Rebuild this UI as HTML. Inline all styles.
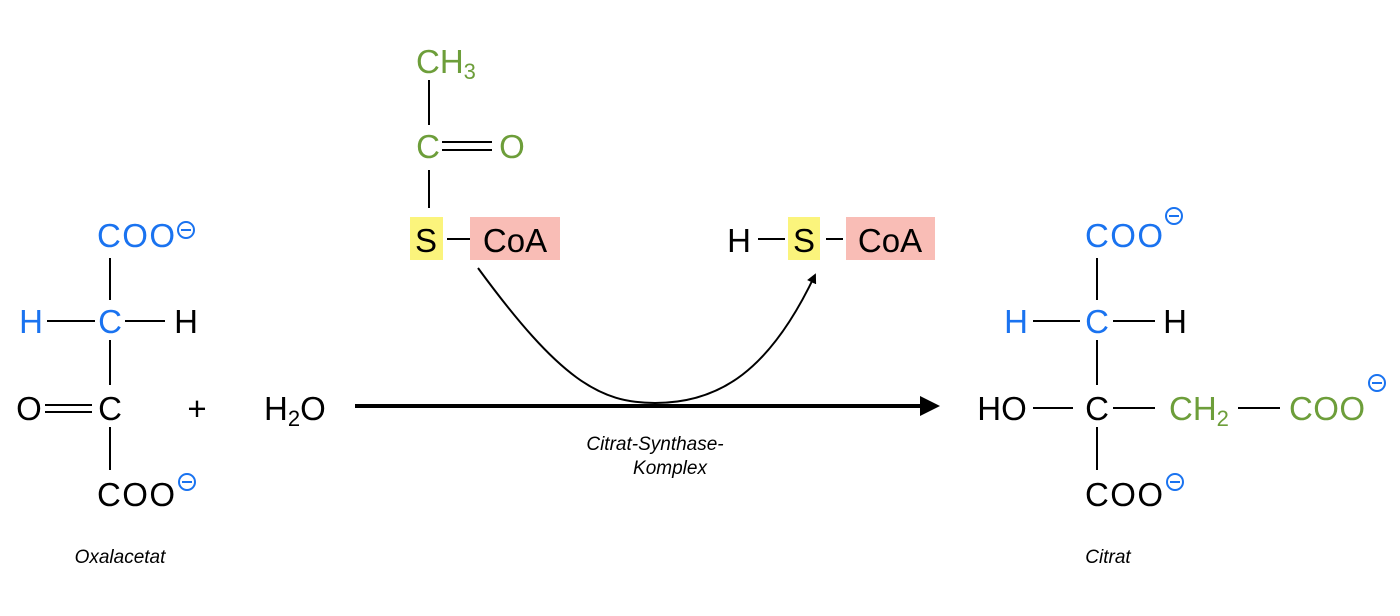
<!DOCTYPE html>
<html><head><meta charset="utf-8"><style>
html,body{margin:0;padding:0;background:#fff}
svg{display:block}
text{font-family:"Liberation Sans",sans-serif;font-size:33px}
.b{fill:#1a73f0}.g{fill:#6d9e3a}.k{fill:#000}
.i{font-style:italic;font-size:19px}
line,path{stroke:#000;stroke-width:2;fill:none}
</style></head><body>
<svg width="1400" height="616" viewBox="0 0 1400 616">
<defs><marker id="ah" markerWidth="10" markerHeight="10" refX="8" refY="5" orient="auto" markerUnits="userSpaceOnUse"><path d="M0,0 L10,5 L0,10 z" style="fill:#000;stroke:none"/></marker></defs>
<!-- Oxalacetat -->
<text x="136" y="247" text-anchor="middle" class="b" textLength="78">COO</text>
<circle cx="186" cy="230" r="8" style="fill:none;stroke:#1a73f0;stroke-width:2"/><line x1="181" y1="230" x2="191" y2="230" style="stroke:#1a73f0"/>
<line x1="110" y1="258" x2="110" y2="300"/>
<text x="31" y="333" text-anchor="middle" class="b">H</text>
<line x1="47" y1="321" x2="95" y2="321"/>
<text x="110" y="333" text-anchor="middle" class="b">C</text>
<line x1="125" y1="321" x2="165" y2="321"/>
<text x="186" y="333" text-anchor="middle">H</text>
<line x1="110" y1="340" x2="110" y2="385"/>
<text x="29" y="420" text-anchor="middle">O</text>
<line x1="45" y1="405" x2="92" y2="405"/><line x1="45" y1="412" x2="92" y2="412"/>
<text x="110" y="420" text-anchor="middle">C</text>
<text x="197" y="420" text-anchor="middle">+</text>
<line x1="110" y1="427" x2="110" y2="470"/>
<text x="136" y="506" text-anchor="middle" textLength="78">COO</text>
<circle cx="187" cy="482" r="8" style="fill:none;stroke:#1a73f0;stroke-width:2"/><line x1="182" y1="482" x2="192" y2="482" style="stroke:#1a73f0"/>
<text x="120" y="563" text-anchor="middle" class="i">Oxalacetat</text>
<!-- H2O -->
<text x="264" y="420">H<tspan font-size="22" dy="6">2</tspan><tspan dy="-6">O</tspan></text>
<line x1="355" y1="406" x2="922" y2="406" style="stroke-width:4"/>
<path d="M920,396 L940,406 L920,416 z" style="fill:#000;stroke:none"/>
<path d="M478,268 C560,380 600,403 655,403 C720,403 770,370 815,275" marker-end="url(#ah)"/>
<text x="655" y="450" text-anchor="middle" class="i">Citrat-Synthase-</text>
<text x="670" y="474" text-anchor="middle" class="i">Komplex</text>
<!-- Acetyl-CoA -->
<text x="416" y="73" class="g">CH<tspan font-size="22" dy="6">3</tspan></text>
<line x1="429" y1="80" x2="429" y2="125"/>
<text x="428" y="158" text-anchor="middle" class="g">C</text>
<line x1="442" y1="142" x2="492" y2="142"/><line x1="442" y1="150" x2="492" y2="150"/>
<text x="512" y="158" text-anchor="middle" class="g">O</text>
<line x1="429" y1="170" x2="429" y2="208"/>
<rect x="410" y="217" width="33" height="43" fill="#fbf47c"/>
<text x="426" y="252" text-anchor="middle">S</text>
<line x1="447" y1="239" x2="470" y2="239"/>
<rect x="470" y="217" width="90" height="43" fill="#f9bdb6"/>
<text x="515" y="252" text-anchor="middle">CoA</text>
<!-- HS-CoA -->
<text x="739" y="252" text-anchor="middle">H</text>
<line x1="758" y1="239" x2="785" y2="239"/>
<rect x="788" y="217" width="32" height="43" fill="#fbf47c"/>
<text x="804" y="252" text-anchor="middle">S</text>
<line x1="826" y1="239" x2="843" y2="239"/>
<rect x="846" y="217" width="89" height="43" fill="#f9bdb6"/>
<text x="890" y="252" text-anchor="middle">CoA</text>
<!-- Citrat -->
<text x="1124" y="247" text-anchor="middle" class="b" textLength="78">COO</text>
<circle cx="1174" cy="216" r="8" style="fill:none;stroke:#1a73f0;stroke-width:2"/><line x1="1169" y1="216" x2="1179" y2="216" style="stroke:#1a73f0"/>
<line x1="1097" y1="258" x2="1097" y2="300"/>
<text x="1016" y="333" text-anchor="middle" class="b">H</text>
<line x1="1033" y1="321" x2="1080" y2="321"/>
<text x="1097" y="333" text-anchor="middle" class="b">C</text>
<line x1="1113" y1="321" x2="1155" y2="321"/>
<text x="1175" y="333" text-anchor="middle">H</text>
<line x1="1097" y1="340" x2="1097" y2="385"/>
<text x="1002" y="420" text-anchor="middle">HO</text>
<line x1="1033" y1="408" x2="1073" y2="408"/>
<text x="1097" y="420" text-anchor="middle">C</text>
<line x1="1113" y1="408" x2="1155" y2="408"/>
<text x="1169" y="420" class="g">CH<tspan font-size="22" dy="6">2</tspan></text>
<line x1="1238" y1="408" x2="1280" y2="408"/>
<text x="1327" y="420" text-anchor="middle" class="g" textLength="76">COO</text>
<circle cx="1377" cy="383" r="8" style="fill:none;stroke:#1a73f0;stroke-width:2"/><line x1="1372" y1="383" x2="1382" y2="383" style="stroke:#1a73f0"/>
<line x1="1097" y1="427" x2="1097" y2="470"/>
<text x="1124" y="506" text-anchor="middle" textLength="78">COO</text>
<circle cx="1175" cy="482" r="8" style="fill:none;stroke:#1a73f0;stroke-width:2"/><line x1="1170" y1="482" x2="1180" y2="482" style="stroke:#1a73f0"/>
<text x="1108" y="563" text-anchor="middle" class="i">Citrat</text>
</svg>
</body></html>
